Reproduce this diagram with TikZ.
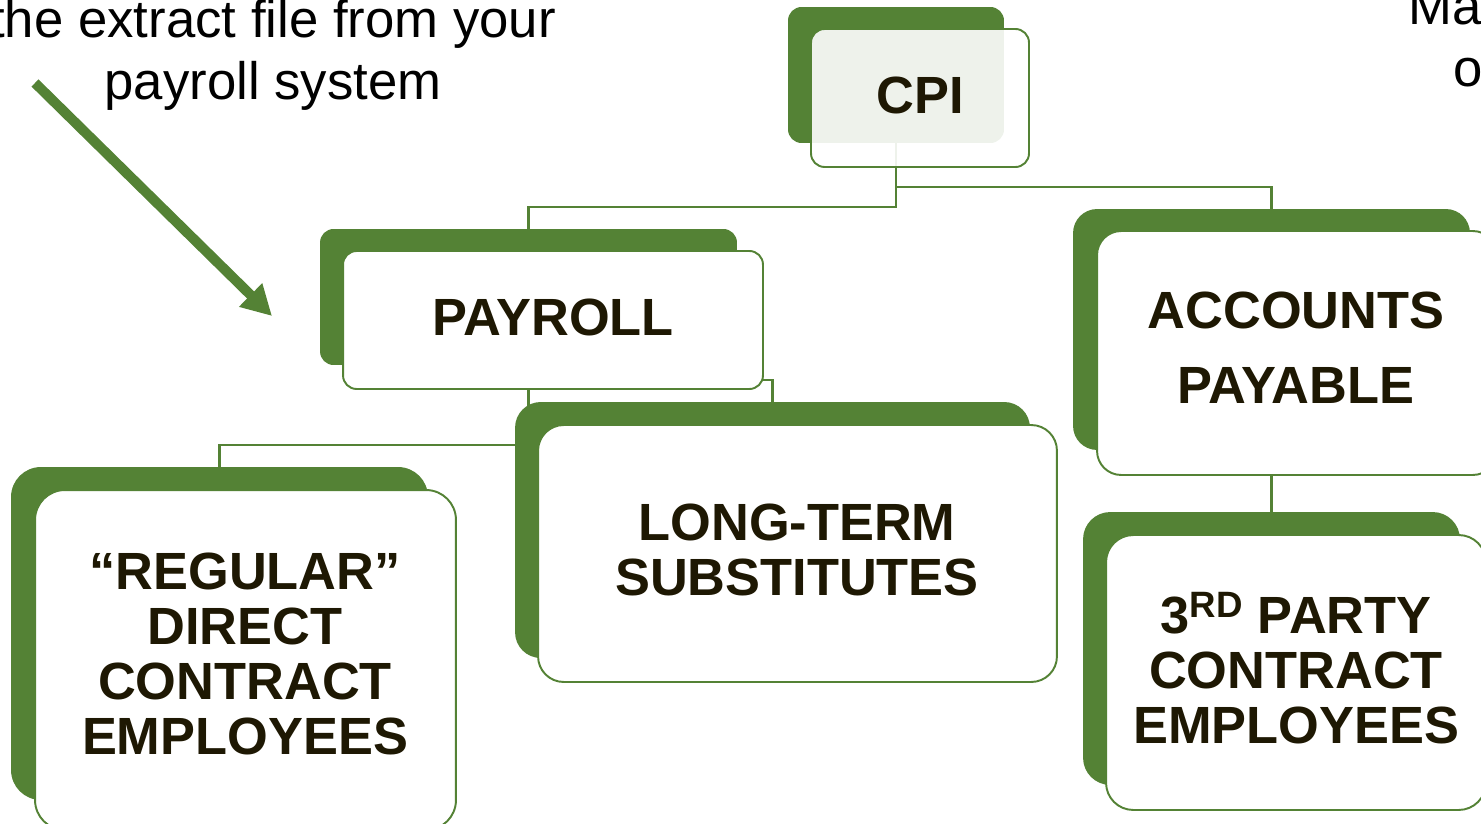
\documentclass[tikz,border=0pt]{standalone}
\usepackage{fontspec}
\setmainfont{Liberation Sans}
\usetikzlibrary{arrows.meta,backgrounds}

\definecolor{leaf}{HTML}{548235}
\definecolor{ink}{HTML}{1E1803}

\tikzset{
  backbox/.style={draw=none, fill=leaf, rounded corners=#1, inner sep=0pt},
  frontbox/.style={draw=leaf, line width=1.1pt, fill=white, rounded corners=#1, inner sep=0pt},
  boxtext/.style={text=ink, font=\fontsize{29.8}{31.3}\selectfont\bfseries, align=center, inner sep=0pt},
  link/.style={draw=leaf, line width=1.2pt},
  note/.style={text=black, font=\fontsize{30}{35.3}\selectfont, align=center, inner sep=0pt},
  pointer/.style={draw=leaf, line width=5.7pt, -{Triangle[length=0.6cm,width=0.62cm]}}
}

\begin{document}
\begin{tikzpicture}[x=0.02cm, y=-0.02cm]
\useasboundingbox (0,0) rectangle (1481,824);
\clip (0,0) rectangle (1481,824);

% call-outs round the chart
\node[note] (extract) at (273,55) {the extract file from your\\payroll system};
\node[note, anchor=base west] (mtop) at (1408,25) {Ma};
\node[note, anchor=base west] (mbot) at (1453,87) {o};
\coordinate (tail) at (35,83);
\coordinate (tip) at (272,316);
\draw[pointer] (tail) -- (tip);

% CPI
\node[backbox=7.7pt, minimum width=4.32cm, minimum height=2.72cm] (cpib) at (896,75) {};
\node[frontbox=7.7pt, fill opacity=0.9, minimum width=4.36cm, minimum height=2.76cm] (cpif) at (920,98) {};
\node[boxtext] (cpi) at (920,95) {CPI};

% PAYROLL
\node[backbox=7.7pt, minimum width=8.34cm, minimum height=2.72cm] (payb) at (528.5,297) {};
\node[frontbox=7.7pt, minimum width=8.40cm, minimum height=2.76cm] (payf) at (553,320) {};
\node[boxtext] (pay) at (553,317) {PAYROLL};

% ACCOUNTS PAYABLE
\node[backbox=13.7pt, minimum width=7.94cm, minimum height=4.82cm] (apb) at (1271.5,329.5) {};
\node[frontbox=13.7pt, minimum width=8cm, minimum height=4.88cm] (apf) at (1297,353) {};
\node[boxtext, font=\fontsize{29.8}{42.7}\selectfont\bfseries] (ap) at (1296,348) {ACCOUNTS\\PAYABLE};

% LONG-TERM SUBSTITUTES
\node[backbox=14.6pt, minimum width=10.3cm, minimum height=5.12cm] (ltb) at (772.5,530) {};
\node[frontbox=14.6pt, minimum width=10.38cm, minimum height=5.14cm] (ltf) at (797.5,553.5) {};
\node[boxtext] (lt) at (797,549.5) {LONG-TERM\\SUBSTITUTES};

% REGULAR
\node[backbox=17pt, minimum width=8.34cm, minimum height=6.66cm] (regb) at (219.5,633.5) {};
\node[frontbox=17pt, minimum width=8.42cm, minimum height=6.8cm] (regf) at (245.5,660) {};
\node[boxtext] (reg) at (245,653.5) {“REGULAR”\\DIRECT\\CONTRACT\\EMPLOYEES};

% 3RD PARTY
\node[backbox=15.5pt, minimum width=7.54cm, minimum height=5.46cm] (tpb) at (1271.5,648.5) {};
\node[frontbox=15.5pt, minimum width=7.6cm, minimum height=5.5cm] (tpf) at (1296,672.5) {};
\node[boxtext] (tp) at (1296,668) {3\textsuperscript{RD} PARTY\\CONTRACT\\EMPLOYEES};

% tree lines, behind the boxes
\begin{scope}[on background layer]
\draw[link] (cpib.south) -- ++(0,64) -| (payb.north);
\draw[link] (cpib.south) -- ++(0,44) -| (apb.north);
\draw[link] (payb.south) -- ++(0,15) -| (ltb.north);
\draw[link] (payb.south) -- ++(0,80) -| (regb.north);
\draw[link] (apb.south) -- (tpb.north);
\end{scope}
\end{tikzpicture}
\end{document}
